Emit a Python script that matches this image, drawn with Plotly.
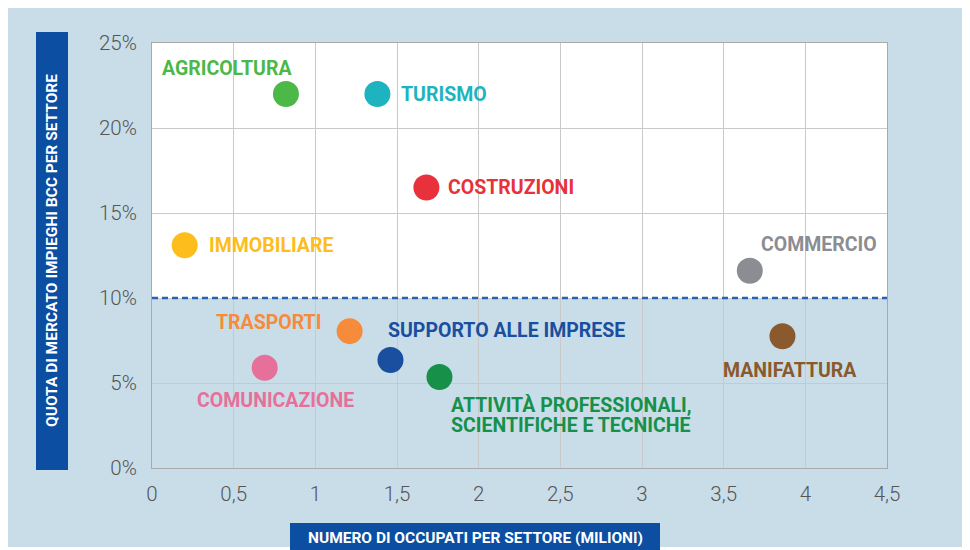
import plotly.graph_objects as go

sectors = ["AGRICOLTURA", "TURISMO", "COSTRUZIONI", "IMMOBILIARE", "COMMERCIO",
           "TRASPORTI", "SUPPORTO ALLE IMPRESE", "COMUNICAZIONE",
           "ATTIVITÀ PROFESSIONALI,<br>SCIENTIFICHE E TECNICHE", "MANIFATTURA"]
occupati = [0.82, 1.38, 1.68, 0.20, 3.66, 1.21, 1.46, 0.69, 1.76, 3.86]
quota = [22.0, 22.0, 16.5, 13.1, 11.6, 8.05, 6.35, 5.9, 5.35, 7.75]
colors = ["#4cb848", "#1db4bf", "#e8313a", "#fdbd1c", "#8b8d92",
          "#f68b3b", "#1a4e9f", "#e7709a", "#17904a", "#8a5a2e"]
# label placement: (xanchor, xshift, yshift)
label_pos = [("right", 8, 26), ("left", 22, 0), ("left", 20, 0), ("left", 22, 0),
             ("right", 129, 26), ("right", -27, 9), ("left", -4, 30),
             ("center", 11, -33), ("left", 10, -28), ("center", 8, -34)]
threshold = 10

BG = "#c8dde8"
BLUE = "#0b4ea2"

fig = go.Figure()
fig.add_trace(go.Scatter(
    x=occupati, y=quota, mode="markers",
    marker=dict(size=26, color=colors, line=dict(width=0), opacity=1),
    hoverinfo="skip", showlegend=False))

OFF = 8  # page body margin
W, H = 970 - OFF, 550 - OFF
L, T = 152 - OFF, 43 - OFF
R = W - (887 - OFF)
B = H - (468 - OFF)
pw, ph = W - L - R, H - T - B

def px(x):
    return (x - OFF - L) / pw

def py(y):
    return (H - B - (y - OFF)) / ph

shapes = [
    dict(type="rect", xref="paper", yref="y", x0=0, x1=1, y0=0, y1=threshold,
         fillcolor=BG, line=dict(width=0), layer="below"),
    dict(type="line", xref="paper", yref="y", x0=0, x1=1, y0=threshold, y1=threshold,
         line=dict(color="#2463b5", width=2.5, dash="6px,4px")),
    dict(type="rect", xref="paper", yref="paper", x0=px(965), x1=px(980), y0=py(560), y1=py(0),
         fillcolor="white", line=dict(width=0)),
    dict(type="rect", xref="paper", yref="paper", x0=px(0), x1=px(980), y0=py(560), y1=py(547),
         fillcolor="white", line=dict(width=0)),
    dict(type="rect", xref="paper", yref="paper", x0=px(36), x1=px(68), y0=py(470), y1=py(32),
         fillcolor=BLUE, line=dict(width=0)),
    dict(type="rect", xref="paper", yref="paper", x0=px(290), x1=px(660), y0=py(560), y1=py(523),
         fillcolor=BLUE, line=dict(width=0)),
]

annotations = []
LINE_GAP = 20
for s, x, y, c, (xa, xs, ys) in zip(sectors, occupati, quota, colors, label_pos):
    for i, line in enumerate(s.split("<br>")):
        annotations.append(dict(
            x=x, y=y, xref="x", yref="y", text=line, showarrow=False,
            xanchor=xa, yanchor="middle", xshift=xs, yshift=ys - i * LINE_GAP, align="left",
            font=dict(family="Roboto", size=19.5, color=c, weight="bold")))

annotations.append(dict(
    x=px(52), y=py(251), xref="paper", yref="paper", showarrow=False,
    text="QUOTA DI MERCATO IMPIEGHI BCC PER SETTORE", textangle=-90,
    xanchor="center", yanchor="middle",
    font=dict(family="Roboto", size=15.5, color="white", weight="bold")))
annotations.append(dict(
    x=px(475), y=py(538), xref="paper", yref="paper", showarrow=False,
    text="NUMERO DI OCCUPATI PER SETTORE (MILIONI)",
    xanchor="center", yanchor="middle",
    font=dict(family="Roboto", size=15.5, color="white", weight="bold")))

tickfont = dict(family="Roboto", size=20.5, color="#555555", weight=300)
fig.update_layout(
    width=W, height=H,
    margin=dict(l=L, r=R, t=T, b=B),
    paper_bgcolor=BG, plot_bgcolor="white",
    separators=",.",
    shapes=shapes, annotations=annotations,
    xaxis=dict(range=[0, 4.5], dtick=0.5, tick0=0, showgrid=True, gridcolor="#c9c9c9",
               gridwidth=1, showline=True, linecolor="#a9a9a9", linewidth=1, mirror=True,
               zeroline=False, ticks="outside", ticklen=7, tickcolor="rgba(0,0,0,0)",
               tickfont=tickfont, fixedrange=True),
    yaxis=dict(range=[0, 25], dtick=5, tick0=0, ticksuffix="%", showgrid=True,
               gridcolor="#c9c9c9", gridwidth=1, showline=True, linecolor="#a9a9a9",
               linewidth=1, mirror=True, zeroline=False, ticks="outside", ticklen=10,
               tickcolor="rgba(0,0,0,0)",
               tickfont=tickfont, fixedrange=True),
)

fig.write_html("out.html")
